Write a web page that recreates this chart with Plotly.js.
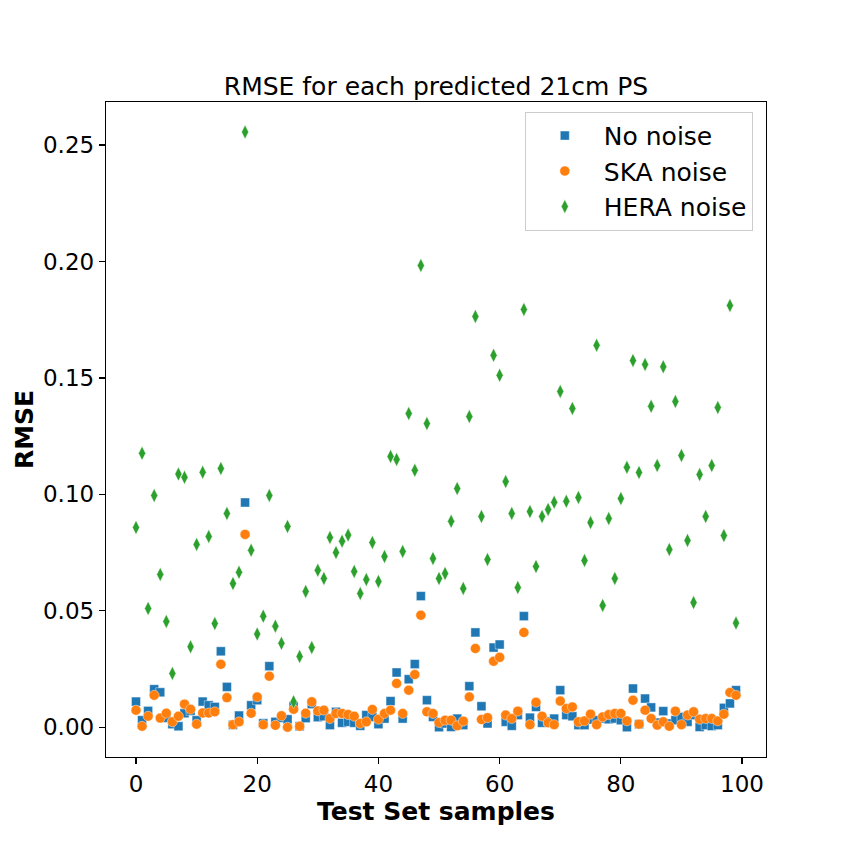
<!DOCTYPE html>
<html>
<head>
<meta charset="utf-8">
<script src="https://cdn.plot.ly/plotly-3.0.1.min.js"></script>
<style>html,body{margin:0;padding:0;background:#fff;}#chart{width:850px;height:850px;}</style>
</head>
<body>
<div id="chart"></div>
<script>
const samples = Array.from({length: 100}, (_, i) => i);

const noNoise = [
0.011,0.003,0.007,0.0163,0.015,0.004,0.0013,0.0004,0.006,0.007,
0.003,0.011,0.0094,0.0087,0.0326,0.0173,0.001,0.005,0.0965,0.0094,
0.0116,0.0017,0.0262,0.0023,0.004,0.0034,0.009,0.0004,0.0039,0.0099,
0.0043,0.0047,0.0009,0.0066,0.0019,0.0023,0.0019,0.0006,0.0052,0.0044,
0.0013,0.0037,0.0112,0.0235,0.0037,0.0206,0.0271,0.0563,0.0116,0.0044,
0.0,0.0016,0.0001,0.0037,0.0009,0.0176,0.0407,0.009,0.0016,0.0342,
0.0355,0.0023,0.0006,0.0052,0.0477,0.0041,0.0087,0.0019,0.0025,0.0037,
0.0159,0.0052,0.0047,0.0009,0.0009,0.0033,0.003,0.0037,0.0034,0.0037,
0.003,0.0,0.0166,0.0013,0.0123,0.0085,0.002,0.0069,0.0016,0.003,
0.0044,0.0023,0.0052,0.0001,0.0009,0.0005,0.0009,0.0083,0.0102,0.0159
];

const skaNoise = [
0.0073,0.0004,0.0047,0.0137,0.0039,0.006,0.0023,0.0047,0.0099,0.0077,
0.0013,0.0061,0.0061,0.0066,0.027,0.0127,0.0011,0.0023,0.0828,0.006,
0.013,0.0011,0.0219,0.0008,0.0049,0.0,0.0077,0.0004,0.006,0.0109,
0.007,0.0073,0.0037,0.0059,0.0059,0.0054,0.0047,0.0016,0.0023,0.0076,
0.0034,0.0059,0.0073,0.0188,0.0059,0.0159,0.0226,0.0481,0.0066,0.0059,
0.002,0.003,0.003,0.0006,0.0026,0.013,0.0338,0.0033,0.0041,0.0283,
0.03,0.0052,0.0037,0.0069,0.0407,0.0011,0.0107,0.0047,0.0019,0.0011,
0.0112,0.008,0.0087,0.0023,0.0027,0.0056,0.0011,0.0044,0.0054,0.0059,
0.0059,0.0027,0.0116,0.0013,0.0073,0.0037,0.0009,0.0023,0.0004,0.0069,
0.0011,0.0052,0.0066,0.0034,0.0037,0.0037,0.0027,0.0056,0.0149,0.0137
];

const heraNoise = [
0.0858,0.1176,0.051,0.0995,0.0656,0.0454,0.0231,0.1087,0.1073,0.0345,
0.0785,0.1095,0.0819,0.0445,0.1111,0.0918,0.0617,0.0665,0.2556,0.076,
0.040,0.0477,0.0995,0.0434,0.036,0.0862,0.0109,0.0304,0.0583,0.0342,
0.0674,0.0639,0.0815,0.075,0.0799,0.0825,0.0669,0.0574,0.0634,0.0793,
0.0626,0.0733,0.1163,0.115,0.0755,0.1347,0.1103,0.1983,0.1304,0.0725,
0.0639,0.066,0.0884,0.1025,0.0596,0.1334,0.1764,0.0905,0.072,0.1597,
0.1511,0.1055,0.0918,0.06,0.1794,0.0926,0.069,0.0905,0.0935,0.0966,
0.1442,0.097,0.1369,0.0987,0.0716,0.0879,0.164,0.0523,0.0896,0.0639,
0.0982,0.1116,0.1575,0.1094,0.1558,0.1378,0.1124,0.1548,0.0763,0.1399,
0.1167,0.0802,0.0535,0.1085,0.0905,0.1124,0.1373,0.0823,0.1811,0.0447
];

const seriesNames = ["No noise", "SKA noise", "HERA noise"];
const xTickVals = [0, 20, 40, 60, 80, 100];
const yTickVals = [0.00, 0.05, 0.10, 0.15, 0.20, 0.25];

const font = "DejaVu Sans, Verdana, sans-serif";
const edge = {width: 0.6, color: "rgba(255,255,255,0.7)"};

const traces = [
  {x: samples, y: noNoise, name: seriesNames[0], type: "scatter", mode: "markers",
   marker: {symbol: "square", size: 9, color: "#1f77b4", line: edge}},
  {x: samples, y: skaNoise, name: seriesNames[1], type: "scatter", mode: "markers",
   marker: {symbol: "circle", size: 10, color: "#ff7f0e", line: edge}},
  {x: samples, y: heraNoise, name: seriesNames[2], type: "scatter", mode: "markers",
   marker: {symbol: "diamond-tall", size: 10, color: "#2ca02c", line: edge}}
];

const layout = {
  width: 850, height: 850,
  margin: {l: 106, r: 84, t: 102, b: 93, pad: 0},
  paper_bgcolor: "#fff", plot_bgcolor: "#fff",
  font: {family: font, size: 23, color: "#000"},
  title: {text: "RMSE for each predicted 21cm PS", font: {family: font, size: 25, color: "#000"},
          x: 0.5, xref: "paper", y: 1 - 86/850, yref: "container", yanchor: "middle"},
  showlegend: true,
  legend: {x: 0.98, y: 0.985, xanchor: "right", yanchor: "top", bgcolor: "rgba(255,255,255,0.8)",
           bordercolor: "#cccccc", borderwidth: 1, font: {family: font, size: 25, color: "#000"},
           itemwidth: 68, tracegroupgap: 0},
  xaxis: {range: [-4.95, 103.95], tickvals: xTickVals, ticks: "outside", ticklen: 6, tickwidth: 1.2,
          tickcolor: "#000", showline: true, linecolor: "#000", linewidth: 1.2, mirror: true,
          showgrid: false, zeroline: false, tickfont: {family: font, size: 23},
          title: {text: "<b>Test Set samples</b>", font: {family: font, size: 25}, standoff: 1}},
  yaxis: {range: [-0.0128, 0.2685], tickvals: yTickVals, tickformat: ".2f", ticks: "outside", ticklen: 6,
          tickwidth: 1.2, tickcolor: "#000", showline: true, linecolor: "#000", linewidth: 1.2, mirror: true,
          showgrid: false, zeroline: false, tickfont: {family: font, size: 23},
          title: {text: "<b>RMSE</b>", font: {family: font, size: 25}, standoff: 2}}
};

Plotly.newPlot("chart", traces, layout, {displayModeBar: false, staticPlot: true});
</script>
</body>
</html>
